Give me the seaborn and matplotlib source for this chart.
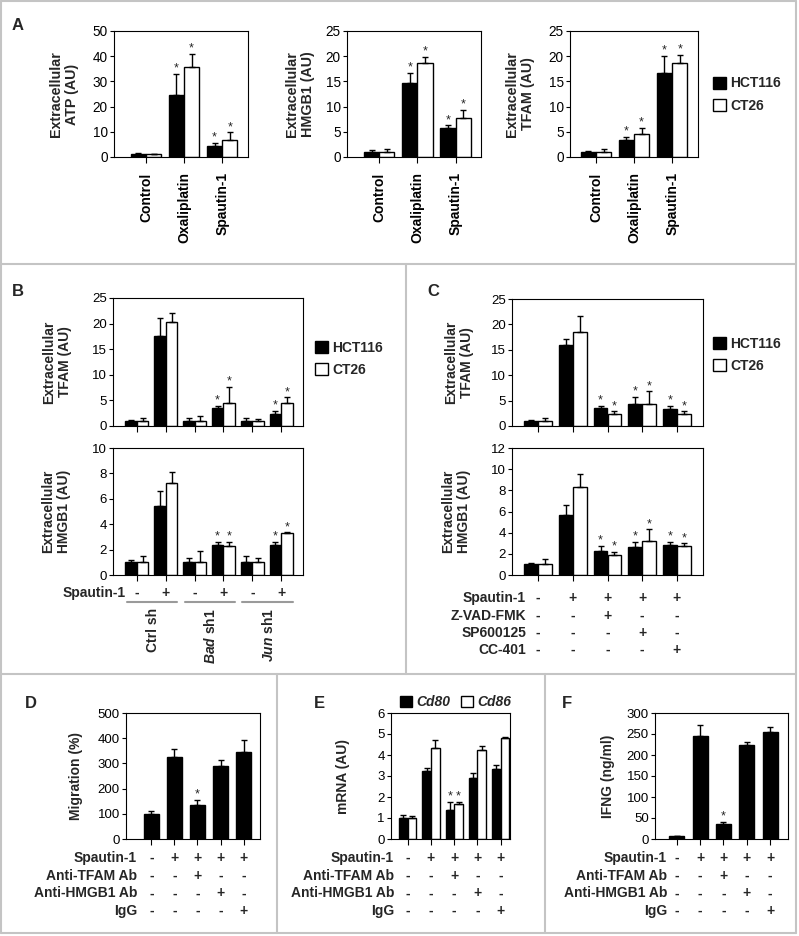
import numpy as np
import pandas as pd
import matplotlib
matplotlib.use("Agg")
import matplotlib.pyplot as plt
import seaborn as sns
from matplotlib.patches import Patch
from matplotlib.lines import Line2D
from matplotlib.transforms import blended_transform_factory

sns.set_style("ticks")
plt.rcParams["font.family"] = ["Liberation Sans", "DejaVu Sans"]
plt.rcParams["mathtext.fontset"] = "custom"
plt.rcParams["mathtext.it"] = "Liberation Sans:italic:bold"
plt.rcParams["axes.edgecolor"] = "black"
plt.rcParams["axes.linewidth"] = 0.8
plt.rcParams["xtick.color"] = "black"
plt.rcParams["ytick.color"] = "black"

# ---- data ----
cells = ["HCT116", "CT26"]

# A
a_groups = ["Control", "Oxaliplatin", "Spautin-1"]
a_atp_hct = [1.0, 24.6, 4.5]
a_atp_hct_err = [0.5, 8.3, 1.0]
a_atp_ct = [1.0, 35.8, 6.8]
a_atp_ct_err = [0.3, 5.0, 3.0]
a_hmgb1_hct = [1.0, 14.6, 5.7]
a_hmgb1_hct_err = [0.4, 2.1, 0.6]
a_hmgb1_ct = [1.0, 18.6, 7.7]
a_hmgb1_ct_err = [0.5, 1.2, 1.6]
a_tfam_hct = [1.0, 3.4, 16.7]
a_tfam_hct_err = [0.2, 0.6, 3.3]
a_tfam_ct = [1.0, 4.5, 18.7]
a_tfam_ct_err = [0.5, 1.3, 1.5]
a_stars = [False, True, True]

# B
b_groups = ["Ctrl sh -", "Ctrl sh +", "Bad sh1 -", "Bad sh1 +", "Jun sh1 -", "Jun sh1 +"]
b_tfam_hct = [1.0, 17.6, 1.0, 3.55, 1.0, 2.4]
b_tfam_hct_err = [0.2, 3.4, 0.5, 0.4, 0.5, 0.5]
b_tfam_ct = [1.0, 20.4, 1.0, 4.4, 1.0, 4.4]
b_tfam_ct_err = [0.5, 1.6, 1.0, 3.2, 0.3, 1.2]
b_hmgb1_hct = [1.0, 5.4, 1.0, 2.35, 1.0, 2.35]
b_hmgb1_hct_err = [0.2, 1.2, 0.3, 0.25, 0.5, 0.25]
b_hmgb1_ct = [1.0, 7.25, 1.0, 2.3, 1.0, 3.3]
b_hmgb1_ct_err = [0.5, 0.85, 0.9, 0.3, 0.3, 0.05]
b_stars = [False, False, False, True, False, True]
b_spautin = ["-", "+", "-", "+", "-", "+"]
b_shrna = ["Ctrl sh", "$\\it{Bad}$ sh1", "$\\it{Jun}$ sh1"]

# C
c_groups = ["Control", "Spautin-1", "Z-VAD-FMK", "SP600125", "CC-401"]
c_tfam_hct = [1.0, 15.9, 3.55, 4.4, 3.3]
c_tfam_hct_err = [0.2, 1.2, 0.4, 1.3, 0.65]
c_tfam_ct = [1.0, 18.55, 2.4, 4.4, 2.4]
c_tfam_ct_err = [0.5, 3.15, 0.5, 2.4, 0.5]
c_hmgb1_hct = [1.0, 5.7, 2.3, 2.6, 2.8]
c_hmgb1_hct_err = [0.17, 0.9, 0.45, 0.55, 0.35]
c_hmgb1_ct = [1.0, 8.35, 1.9, 3.2, 2.7]
c_hmgb1_ct_err = [0.5, 1.2, 0.3, 1.1, 0.3]
c_stars = [False, False, True, True, True]
c_row_names = ["Spautin-1", "Z-VAD-FMK", "SP600125", "CC-401"]
c_rows = [["-", "+", "+", "+", "+"],
          ["-", "-", "+", "-", "-"],
          ["-", "-", "-", "+", "-"],
          ["-", "-", "-", "-", "+"]]

# D, E, F
def_groups = ["Control", "Spautin-1", "Anti-TFAM", "Anti-HMGB1", "IgG"]
d_migration = [100, 325, 133, 291, 346]
d_migration_err = [12, 34, 22, 23, 46]
genes = ["Cd80", "Cd86"]
e_cd80 = [1.0, 3.25, 1.36, 2.9, 3.35]
e_cd80_err = [0.12, 0.15, 0.4, 0.23, 0.19]
e_cd86 = [1.0, 4.35, 1.67, 4.23, 4.79]
e_cd86_err = [0.1, 0.35, 0.11, 0.2, 0.08]
f_ifng = [6, 246, 35.5, 223, 255]
f_ifng_err = [1, 25, 5, 7, 12]
def_stars = [False, False, True, False, False]
def_row_names = ["Spautin-1", "Anti-TFAM Ab", "Anti-HMGB1 Ab", "IgG"]
def_rows = [["-", "+", "+", "+", "+"],
            ["-", "-", "+", "-", "-"],
            ["-", "-", "-", "+", "-"],
            ["-", "-", "-", "-", "+"]]

# ---- figure ----
W, H = 799, 936
fig = plt.figure(figsize=(W / 100, H / 100), dpi=100)


def add_ax(l, t, r, b):
    return fig.add_axes([l / W, 1 - b / H, (r - l) / W, (b - t) / H])


def add_errs_stars(ax, bars, vals, errs, stars):
    xs = [p.get_x() + p.get_width() / 2 for p in bars]
    ax.errorbar(xs, vals, yerr=[np.zeros(len(vals)), errs], fmt="none",
                ecolor="black", elinewidth=1, capsize=2.5, capthick=1)
    for x, v, e, s in zip(xs, vals, errs, stars):
        if s:
            ax.annotate("*", (x, v + e), xytext=(0, -0.5), textcoords="offset points",
                        ha="center", va="bottom", fontsize=9)


def pair_plot(ax, groups, v1, e1, v2, e2, stars, names=cells, width=0.8):
    n = len(groups)
    df = pd.DataFrame({"group": groups * 2,
                       "series": [names[0]] * n + [names[1]] * n,
                       "value": v1 + v2})
    sns.barplot(data=df, x="group", y="value", hue="series", order=groups,
                hue_order=names, palette=["black", "white"], edgecolor="black",
                linewidth=1, width=width, saturation=1, errorbar=None,
                legend=False, ax=ax)
    add_errs_stars(ax, ax.containers[0], v1, e1, stars)
    add_errs_stars(ax, ax.containers[1], v2, e2, stars)


def single_plot(ax, groups, v, e, stars, width=0.64):
    df = pd.DataFrame({"group": groups, "value": v})
    sns.barplot(data=df, x="group", y="value", order=groups, color="black",
                edgecolor="black", linewidth=1, width=width, saturation=1,
                errorbar=None, ax=ax)
    add_errs_stars(ax, ax.containers[0], v, e, stars)


def style(ax, l, r, ylabel, label_right, ylim, step, xlim, size=10):
    ax.set_ylim(0, ylim)
    ax.set_yticks(np.arange(0, ylim + step / 2, step))
    ax.set_xlim(*xlim)
    ax.set_xlabel("")
    ax.set_ylabel(ylabel, fontsize=size, fontweight="bold", linespacing=1.15)
    ax.yaxis.set_label_coords((label_right - l) / (r - l), 0.5)
    ax.tick_params(axis="y", length=3, width=0.8, pad=1.5, labelsize=size - 0.5)
    ax.tick_params(axis="x", length=4, width=0.8, pad=3)
    for sp in ax.spines.values():
        sp.set_visible(True)
        sp.set_linewidth(0.8)


def sign_rows(ax, names, rows, ys, label_x):
    tr = blended_transform_factory(ax.transData, fig.transFigure)
    for name, signs, y in zip(names, rows, ys):
        fig.text(label_x / W, 1 - y / H, name, ha="right", va="center",
                 fontsize=10, fontweight="bold")
        for i, s in enumerate(signs):
            ax.text(i, 1 - y / H, s, transform=tr, ha="center", va="center",
                    fontsize=10, fontweight="bold")


def cell_legend(ax, x, y):
    handles = [Patch(facecolor="black", edgecolor="black"),
               Patch(facecolor="white", edgecolor="black")]
    ax.legend(handles, cells, loc="center left", bbox_to_anchor=(x / W, 1 - y / H),
              bbox_transform=fig.transFigure, frameon=False, handlelength=0.95,
              handleheight=0.95, handletextpad=0.3, labelspacing=0.6,
              borderpad=0, borderaxespad=0, prop={"weight": "bold", "size": 10})


# Panel A
a_specs = [
    ((114, 31, 248, 157), a_atp_hct, a_atp_hct_err, a_atp_ct, a_atp_ct_err,
     "Extracellular\nATP (AU)", 79, 50, 10, (-0.84, 2.68)),
    ((347, 31, 481, 157), a_hmgb1_hct, a_hmgb1_hct_err, a_hmgb1_ct, a_hmgb1_ct_err,
     "Extracellular\nHMGB1 (AU)", 315, 25, 5, (-0.84, 2.66)),
    ((570, 31, 698, 157), a_tfam_hct, a_tfam_hct_err, a_tfam_ct, a_tfam_ct_err,
     "Extracellular\nTFAM (AU)", 535, 25, 5, (-0.68, 2.68)),
]
for rect, v1, e1, v2, e2, lab, lr, ym, st, xl in a_specs:
    ax = add_ax(*rect)
    pair_plot(ax, a_groups, v1, e1, v2, e2, a_stars)
    style(ax, rect[0], rect[2], lab, lr, ym, st, xl, size=10.3)
    ax.set_xticks(range(len(a_groups)))
    ax.set_xticklabels(a_groups, rotation=90, fontsize=10, fontweight="bold")
    ax.tick_params(axis="x", pad=7)
cell_legend(ax, 713, 94.5)

# Panel B
ax_b1 = add_ax(113, 298, 303, 426)
pair_plot(ax_b1, b_groups, b_tfam_hct, b_tfam_hct_err, b_tfam_ct, b_tfam_ct_err, b_stars)
style(ax_b1, 113, 303, "Extracellular\nTFAM (AU)", 72, 25, 5, (-0.83, 5.76))
ax_b1.set_xticklabels([])
cell_legend(ax_b1, 315, 359)

ax_b2 = add_ax(113, 448, 303, 575)
pair_plot(ax_b2, b_groups, b_hmgb1_hct, b_hmgb1_hct_err, b_hmgb1_ct, b_hmgb1_ct_err, b_stars)
style(ax_b2, 113, 303, "Extracellular\nHMGB1 (AU)", 71, 10, 2, (-0.83, 5.76))
ax_b2.set_xticklabels([])
sign_rows(ax_b2, ["Spautin-1"], [b_spautin], [593], 126)
tr_b = blended_transform_factory(ax_b2.transData, fig.transFigure)
for k, lab in enumerate(b_shrna):
    ax_b2.add_line(Line2D([2 * k - 0.35, 2 * k + 1.4], [1 - 602 / H] * 2, transform=tr_b,
                          color="#9a9a9a", linewidth=1.5, clip_on=False))
    ax_b2.text(2 * k + 0.55, 1 - 608 / H, lab, transform=tr_b, rotation=90,
               ha="center", va="top", fontsize=10, fontweight="bold")

# Panel C
ax_c1 = add_ax(512, 299, 703, 426)
pair_plot(ax_c1, c_groups, c_tfam_hct, c_tfam_hct_err, c_tfam_ct, c_tfam_ct_err, c_stars)
style(ax_c1, 512, 703, "Extracellular\nTFAM (AU)", 474, 25, 5, (-0.75, 4.75))
ax_c1.set_xticklabels([])
cell_legend(ax_c1, 713, 355)

ax_c2 = add_ax(512, 448, 703, 575)
pair_plot(ax_c2, c_groups, c_hmgb1_hct, c_hmgb1_hct_err, c_hmgb1_ct, c_hmgb1_ct_err, c_stars)
style(ax_c2, 512, 703, "Extracellular\nHMGB1 (AU)", 471, 12, 2, (-0.75, 4.75))
ax_c2.set_xticklabels([])
sign_rows(ax_c2, c_row_names, c_rows, [598, 616, 633, 650], 526)

# Panel D
row_y = [857.7, 875.7, 893.3, 910.7]
ax_d = add_ax(126, 713, 260, 839)
single_plot(ax_d, def_groups, d_migration, d_migration_err, def_stars)
style(ax_d, 126, 260, "Migration (%)", 83, 500, 100, (-1.1, 4.71))
ax_d.set_xticklabels([])
sign_rows(ax_d, def_row_names, def_rows, row_y, 137)

# Panel E
ax_e = add_ax(391, 713, 510, 839)
pair_plot(ax_e, def_groups, e_cd80, e_cd80_err, e_cd86, e_cd86_err, def_stars,
          names=genes, width=0.75)
style(ax_e, 391, 510, "mRNA (AU)", 350, 6, 1, (-0.72, 4.4))
ax_e.set_xticklabels([])
sign_rows(ax_e, def_row_names, def_rows, row_y, 394)
ax_e.legend([Patch(facecolor="black", edgecolor="black"),
             Patch(facecolor="white", edgecolor="black")], genes,
            loc="center left", bbox_to_anchor=(400 / W, 1 - 702 / H),
            bbox_transform=fig.transFigure, ncol=2, frameon=False,
            handlelength=0.85, handleheight=0.85, handletextpad=0.3,
            columnspacing=0.8, borderpad=0, borderaxespad=0,
            prop={"weight": "bold", "style": "italic", "size": 10})

# Panel F
ax_f = add_ax(655, 713, 788, 839)
single_plot(ax_f, def_groups, f_ifng, f_ifng_err, def_stars)
style(ax_f, 655, 788, "IFNG (ng/ml)", 615, 300, 50, (-0.93, 4.77))
ax_f.set_xticklabels([])
sign_rows(ax_f, def_row_names, def_rows, row_y, 667)

# panel letters
for letter, x, y in [("A", 12, 25), ("B", 12, 292), ("C", 427, 292),
                     ("D", 25, 703), ("E", 314, 703), ("F", 562, 703)]:
    fig.text(x / W, 1 - y / H, letter, ha="left", va="center", fontsize=12, fontweight="bold")

# frame and separators
sep = "#c4c4c4"
segments = [((1, 1), (796, 1)), ((1, 933), (796, 933)), ((1, 1), (1, 933)),
            ((796, 1), (796, 933)), ((1, 264), (796, 264)), ((1, 674), (796, 674)),
            ((406, 264), (406, 674)), ((277, 674), (277, 933)), ((545, 674), (545, 933))]
for (x0, y0), (x1, y1) in segments:
    fig.add_artist(Line2D([x0 / W, x1 / W], [1 - y0 / H, 1 - y1 / H],
                          transform=fig.transFigure, color=sep, linewidth=1.5))

fig.savefig("out.png", dpi=100)
